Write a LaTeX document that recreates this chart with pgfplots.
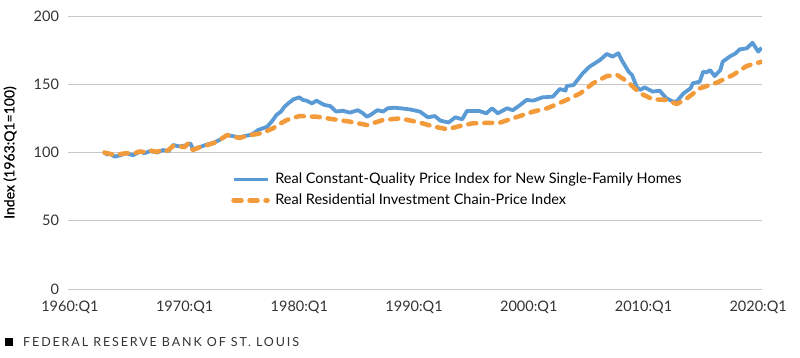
\documentclass[border=0pt]{standalone}
\usepackage{pgfplots}
\pgfplotsset{compat=1.18}
\usepackage{fontspec}
\setmainfont{Lato}
\definecolor{sblue}{HTML}{5B9BD5}
\definecolor{sorange}{HTML}{F39A3B}
\definecolor{gridgray}{HTML}{C8C8C8}
\definecolor{txtgray}{HTML}{333333}
\begin{document}
\fontsize{14.5pt}{17pt}\selectfont
\begin{tikzpicture}
\path[use as bounding box] (0,0) rectangle (800pt,358pt);
\begin{axis}[
  at={(68pt,69pt)}, anchor=south west,
  scale only axis, width=694pt, height=273pt,
  xmin=1959.83, xmax=2020.33, ymin=0, ymax=200,
  axis line style={draw=none},
  tick style={draw=none},
  xtick={1960,1970,1980,1990,2000,2010,2020},
  xticklabels={1960:Q1,1970:Q1,1980:Q1,1990:Q1,2000:Q1,2010:Q1,2020:Q1},
  ytick={0,50,100,150,200},
  yticklabels={0,50,100,150,200},
  /pgf/number format/assume math mode=true,
  ymajorgrids, major grid style={gridgray, line width=0.8pt},
  xticklabel style={font=\fontsize{14.5pt}{17pt}\selectfont, text=txtgray, anchor=north, yshift=-7pt},
  yticklabel style={font=\fontsize{14.5pt}{17pt}\selectfont, text=txtgray, anchor=east, xshift=-4pt},
  ylabel={Index (1963:Q1=100)},
  every axis y label/.style={at={(rel axis cs:0,0.5)}, xshift=-58pt, rotate=90, anchor=center, font=\fontsize{14pt}{17pt}\selectfont\addfontfeature{FakeBold=0.6}},
  legend style={draw=none, fill=none, at={(rel axis cs:0.235,0.429)}, anchor=north west,
    font=\fontsize{14.5pt}{17pt}\selectfont, row sep=6pt, inner sep=0pt,
    nodes={inner xsep=5.5pt, inner ysep=1pt}},
  legend cell align=left,
  legend image code/.code={\draw[#1] (0pt,0pt) -- (34pt,0pt);},
]
\addplot[sblue, line width=3.8pt, line join=round] coordinates {
(1963.0,100) (1963.25,98.5) (1963.5,99) (1963.9,97) (1964.4,98) (1964.9,99.5)
(1965.5,98) (1966.1,100.6) (1966.5,99.5) (1967.0,101) (1967.6,100) (1968.1,101.8)
(1968.6,101) (1969.0,105.5) (1969.5,104.5) (1970.0,105) (1970.5,106.7) (1970.75,101.8)
(1971.0,103) (1971.5,104.5) (1972.0,106) (1972.5,107) (1973.0,109) (1973.7,112.8)
(1974.2,112) (1974.8,111) (1975.2,112) (1975.7,112.8) (1976.1,114.5) (1976.4,116.5)
(1977.2,118.9) (1977.7,123.8) (1978.0,127.5) (1978.4,130) (1978.7,133.5) (1979.1,136.5)
(1979.5,139) (1980.0,140.4) (1980.3,138.5) (1980.6,138) (1981.1,136) (1981.5,138)
(1981.9,136) (1982.2,134.8) (1982.7,134) (1983.2,130) (1983.8,130.6) (1984.4,129.2)
(1985.1,131) (1985.5,129) (1985.9,126.2) (1986.2,127.5) (1986.8,131) (1987.3,130)
(1987.7,132.4) (1988.3,132.8) (1988.8,132.4) (1989.6,131.6) (1990.5,130) (1991.2,125.8)
(1991.8,126.7) (1992.3,123.3) (1993.0,122) (1993.6,125.8) (1994.2,124.3) (1994.6,130.4)
(1995.7,130.4) (1996.3,128.7) (1996.8,132.4) (1997.3,128.7) (1998.1,132.4) (1998.6,131)
(1999.2,134.5) (1999.8,138.5) (2000.4,138) (2001.2,140.4) (2002.1,140.9) (2002.7,146.5)
(2003.2,145.3) (2003.3,148.7) (2003.9,149.4) (2004.7,158) (2005.3,162.9) (2006.2,167.7)
(2006.8,172.2) (2007.3,170.2) (2007.8,172.7) (2008.1,167.7) (2008.7,159.2) (2009.0,156.8)
(2009.4,148.2) (2009.7,145.8) (2010.1,147.7) (2010.8,144.6) (2011.4,145.3) (2012.0,139.7)
(2012.6,137.2) (2012.9,137.5) (2013.5,143.4) (2014.1,147) (2014.3,150.7) (2014.9,151.9)
(2015.2,159.2) (2015.5,158.7) (2015.8,160.4) (2016.2,156) (2016.7,160.4) (2016.9,166.5)
(2017.5,170.2) (2018.0,172.5) (2018.4,175.6) (2019.0,176.3) (2019.5,180.4) (2020.0,173.9)
(2020.3,176.8)
};
\addlegendentry{Real Constant-Quality Price Index for New Single-Family Homes}
\addplot[sorange, line width=4.5pt, line cap=round, line join=round, dash pattern=on 8pt off 8pt] coordinates {
(1963.0,100) (1963.5,99) (1963.9,98) (1964.5,99) (1965.0,99.5) (1965.5,99)
(1966.0,100.6) (1966.5,100.5) (1967.0,101.5) (1967.5,100.5) (1968.0,101.5) (1968.5,101.3)
(1969.0,104.8) (1969.5,104.5) (1970.0,104) (1970.3,106.7) (1970.7,101.8) (1971.2,103.5)
(1972.0,105.5) (1972.7,107.5) (1973.2,110) (1973.7,112.8) (1974.2,111.5) (1974.8,110.7)
(1975.7,112.8) (1976.3,113.5) (1976.8,114.5) (1977.7,117.7) (1978.3,121) (1978.9,123.8)
(1980.0,126.7) (1981.5,126.2) (1983.0,124.3) (1984.4,122.6) (1985.9,120.1) (1987.3,123.8)
(1988.8,125) (1990.5,121.9) (1991.7,119) (1992.9,117) (1994.0,119.4) (1995.1,121.4)
(1997.5,121.9) (1998.6,125) (2000.4,130) (2001.6,132.4) (2003.3,138.5) (2004.5,143.4)
(2005.6,150.7) (2006.8,156) (2007.7,156.8) (2008.6,151.9) (2009.7,143.4) (2010.8,139)
(2012.0,138.5) (2012.9,135.5) (2013.8,139.7) (2014.9,147) (2016.4,151.2) (2017.8,156.8)
(2019.0,163.4) (2020.0,165.8) (2020.3,166.5)
};
\addlegendentry{Real Residential Investment Chain-Price Index}
\end{axis}
\fill[black] (5pt,358pt-346pt) rectangle (12.5pt,358pt-338.5pt);
\node[anchor=west, inner sep=0pt, text=txtgray, font=\fontsize{12.5pt}{15pt}\selectfont\addfontfeature{LetterSpace=15}] at (23pt,358pt-342.2pt) {FEDERAL RESERVE BANK OF ST. LOUIS};
\end{tikzpicture}
\end{document}
